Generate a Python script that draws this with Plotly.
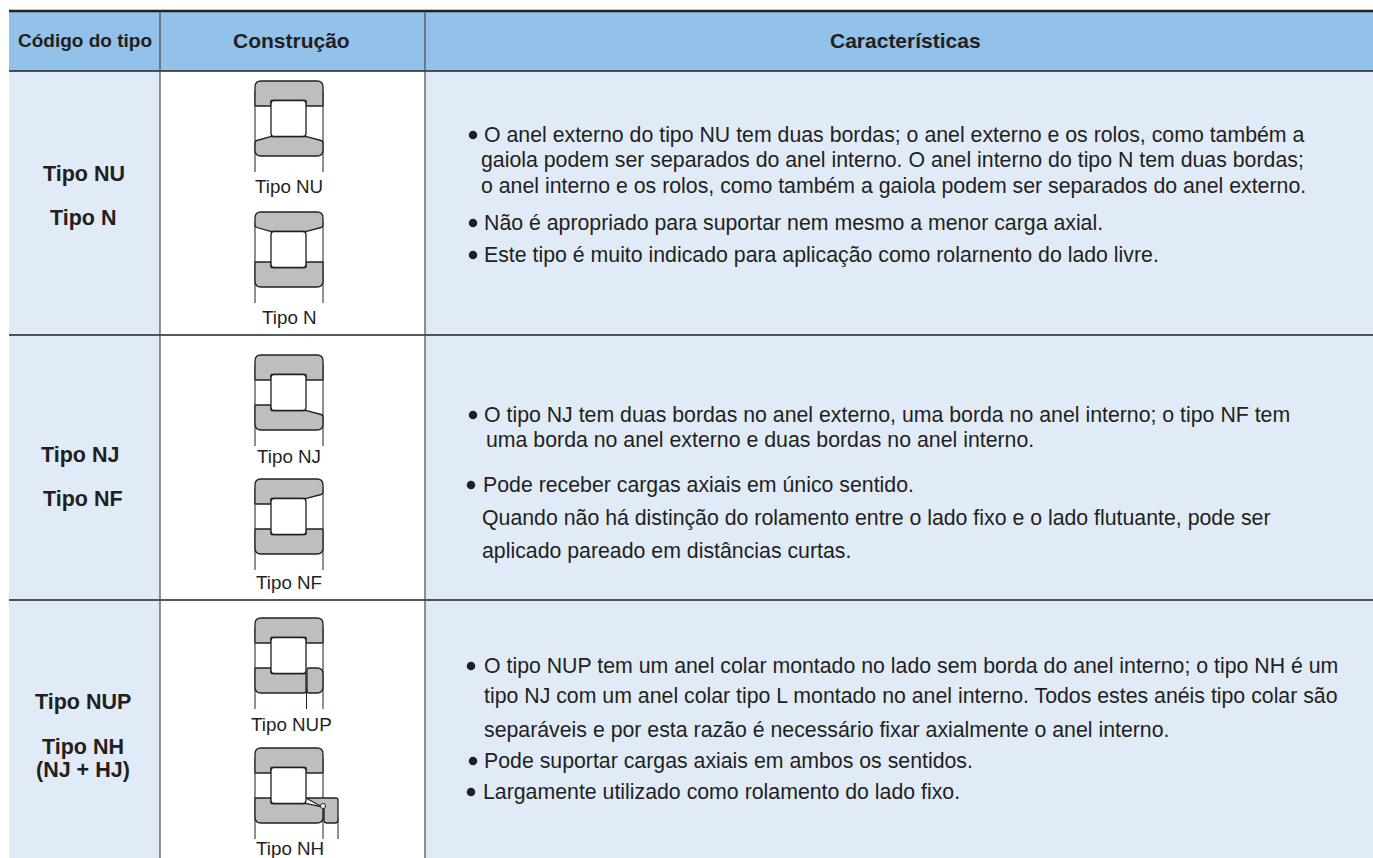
import plotly.graph_objects as go

W, H = 1373, 858
INK = "#231f20"
HEAD = "#92c1e9"
PALE = "#e1ebf8"
GRAY = "#bcbec0"
FONT = "Liberation Sans"

headers = ["Código do tipo", "Construção", "Características"]
type_labels = [["Tipo NU", "Tipo N"], ["Tipo NJ", "Tipo NF"], ["Tipo NUP", "Tipo NH", "(NJ + HJ)"]]
drawing_labels = ["Tipo NU", "Tipo N", "Tipo NJ", "Tipo NF", "Tipo NUP", "Tipo NH"]
body_lines = [
    ["O anel externo do tipo NU tem duas bordas; o anel externo e os rolos, como também a",
     "gaiola podem ser separados do anel interno. O anel interno do tipo N tem duas bordas;",
     "o anel interno e os rolos, como também a gaiola podem ser separados do anel externo.",
     "Não é apropriado para suportar nem mesmo a menor carga axial.",
     "Este tipo é muito indicado para aplicação como rolarnento do lado livre."],
    ["O tipo NJ tem duas bordas no anel externo, uma borda no anel interno; o tipo NF tem",
     "uma borda no anel externo e duas bordas no anel interno.",
     "Pode receber cargas axiais em único sentido.",
     "Quando não há distinção do rolamento entre o lado fixo e o lado flutuante, pode ser",
     "aplicado pareado em distâncias curtas."],
    ["O tipo NUP tem um anel colar montado no lado sem borda do anel interno; o tipo NH é um",
     "tipo NJ com um anel colar tipo L montado no anel interno. Todos estes anéis tipo colar são",
     "separáveis e por esta razão é necessário fixar axialmente o anel interno.",
     "Pode suportar cargas axiais em ambos os sentidos.",
     "Largamente utilizado como rolamento do lado fixo."],
]

# layout of text: (x, y, bullet centre x or None)
body_pos = [
    [(484, 135, 473), (481, 160, None), (481, 186, None), (484, 223, 473), (484, 255, 473)],
    [(484, 415, 473), (486, 440, None), (483, 485, 471), (482, 518, None), (482, 551, None)],
    [(484, 666, 471), (484, 696, None), (484, 730, None), (484, 761, 473), (483, 792, 471)],
]
type_pos = [[(83.5, 174), (82.5, 218)], [(79.5, 455), (82.5, 499)], [(82.5, 702), (82.5, 747), (82.5, 770)]]
draw_label_pos = [(289, 186), (289, 317), (289, 456), (289, 582), (291, 724), (289.5, 848)]


def rnd(pts, r=6):
    """SVG path with rounded corners for given polygon vertices."""
    n = len(pts)
    d = ""
    for i, p in enumerate(pts):
        a = pts[i - 1]
        b = pts[(i + 1) % n]

        def toward(s, t, r):
            dx, dy = t[0] - s[0], t[1] - s[1]
            L = (dx * dx + dy * dy) ** 0.5
            k = min(r, L / 2) / L
            return (s[0] + dx * k, s[1] + dy * k)

        rr = r if len(p) == 2 else p[2]
        p1 = toward(p, a, rr)
        p2 = toward(p, b, rr)
        d += ("M" if i == 0 else "L") + f"{p1[0]:.1f},{p1[1]:.1f} Q{p[0]:.1f},{p[1]:.1f} {p2[0]:.1f},{p2[1]:.1f} "
    return d + "Z"


shapes = []
annots = []


def rect(x0, y0, x1, y1, fill):
    shapes.append(dict(type="rect", x0=x0, y0=y0, x1=x1, y1=y1, fillcolor=fill, line_width=0, layer="below"))


def line(x0, y0, x1, y1, w=1, c=INK):
    shapes.append(dict(type="line", x0=x0, y0=y0, x1=x1, y1=y1, line=dict(color=c, width=w)))


def poly(pts, ox, oy, fill=GRAY, r=6, w=1.3):
    P = [(p[0] + ox, p[1] + oy) + tuple(p[2:]) for p in pts]
    shapes.append(dict(type="path", path=rnd(P, r), fillcolor=fill, line=dict(color=INK, width=w)))


def text(s, x, y, size, bold=False, anchor="center", color=INK):
    annots.append(dict(text=f"<b>{s}</b>" if bold else s, x=x, y=y, xref="x", yref="y", showarrow=False,
                       xanchor=anchor, yanchor="middle", align="center", borderpad=0, borderwidth=0,
                       font=dict(family=FONT, size=size, color=color)))


def bullet(cx, cy, d=8.5):
    shapes.append(dict(type="circle", x0=cx - d / 2, x1=cx + d / 2, y0=cy - d / 2, y1=cy + d / 2,
                       fillcolor=INK, line_width=0))


# ring outlines
OUT_RIB = [(0, 0), (68, 0), (68, 25, 0.8), (51, 25, 0.8), (51, 19.5, 0.5), (16, 19.5, 0.5), (16, 25, 0.8), (0, 25, 0.8)]
OUT_TAPER = [(0, 0), (68, 0), (68, 15, 2), (51, 19.5, 0.5), (16, 19.5, 0.5), (0, 15, 2)]
IN_TAPER = [(0, 60, 2), (16, 55.5, 0.5), (51, 55.5, 0.5), (68, 60, 2), (68, 75), (0, 75)]
IN_RIB = [(0, 50, 0.8), (16, 50, 0.8), (16, 55.5, 0.5), (51, 55.5, 0.5), (51, 50, 0.8), (68, 50, 0.8), (68, 75), (0, 75)]
ROLLER = [(16, 19.5), (51, 19.5), (51, 55.5), (16, 55.5)]


def bearing(ox, oy, kind):
    if kind == "NU":
        rings = [OUT_RIB, IN_TAPER]
    if kind == "N":
        rings = [OUT_TAPER, IN_RIB]
    if kind == "NJ":
        rings = [OUT_RIB, [(0, 50, 0.8), (16, 50, 0.8), (16, 55.5, 0.5), (51, 55.5, 0.5), (68, 60, 2), (68, 75), (0, 75)]]
    if kind == "NF":
        rings = [[(0, 0), (68, 0), (68, 15, 2), (51, 19.5, 0.5), (16, 19.5, 0.5), (16, 25, 0.8), (0, 25, 0.8)], IN_RIB]
    if kind == "NUP":
        rings = [OUT_RIB, [(0, 50, 0.8), (16, 50, 0.8), (16, 55.5, 0.5), (51, 55.5, 0.5), (51, 75, 2), (0, 75)],
                 [(52, 50, 2), (68, 50), (68, 75), (52, 75, 2)]]
    if kind == "NH":
        rings = [OUT_RIB, [(0, 50, 0.8), (16, 50, 0.8), (16, 55.5, 0.5), (51, 55.5, 0.5), (68, 59, 0.5), (68, 75), (0, 75)],
                 [(51, 50, 0.5), (83, 50, 2), (83, 75, 3), (69, 75, 3), (69, 60, 0.5)]]
    for x in (0, 68):
        line(ox + x, oy + 10, ox + x, oy + 91)
    if kind == "NUP":
        line(ox + 51.5, oy + 70, ox + 51.5, oy + 91)
    if kind == "NH":
        line(ox + 83, oy + 70, ox + 83, oy + 91)
    for R in rings:
        poly(R, ox, oy)
    poly(ROLLER, ox, oy, fill="white", r=3)
    if kind == "NH":
        shapes.append(dict(type="circle", x0=ox + 65.5, x1=ox + 70.5, y0=oy + 55.5, y1=oy + 60.5,
                           fillcolor="white", line=dict(color=INK, width=1)))


# backgrounds
rect(9, 11, W, 71, HEAD)
rect(9, 71, 160, H, PALE)
rect(160, 71, 425, H, "white")
rect(425, 71, W, H, PALE)

# rules
line(9, 11, W, 11, 2.4)
line(9, 71, W, 71, 1.3)
line(9, 335, W, 335, 1.3)
line(9, 600, W, 600, 1.3)
line(160, 11, 160, H, 1.2, "#4a4a4c")
line(425, 11, 425, H, 1.2, "#4a4a4c")

# headers
text(headers[0], 84.5, 40, 19, True)
text(headers[1], 291.5, 40, 21, True)
text(headers[2], 905.5, 40, 21, True)

# type labels
for row, pos in zip(type_labels, type_pos):
    for s, (x, y) in zip(row, pos):
        text(s, x, y, 21.5, True)

# drawings
for kind, ox, oy in [("NU", 255, 81), ("N", 255, 212), ("NJ", 255, 355), ("NF", 255, 479), ("NUP", 255, 618), ("NH", 255, 748)]:
    bearing(ox, oy, kind)
for s, (x, y) in zip(drawing_labels, draw_label_pos):
    text(s, x, y, 18.8)

# body
for lines, pos in zip(body_lines, body_pos):
    for s, (x, y, b) in zip(lines, pos):
        text(s, x, y, 21.3, anchor="left")
        if b:
            bullet(b, y)

fig = go.Figure()
fig.update_layout(width=W, height=H, margin=dict(l=0, r=0, t=0, b=0), plot_bgcolor="white", paper_bgcolor="white",
                  xaxis=dict(range=[0, W], visible=False, fixedrange=True),
                  yaxis=dict(range=[H, 0], visible=False, fixedrange=True),
                  shapes=shapes, annotations=annots, showlegend=False)
fig.write_html("out.html", config={"displayModeBar": False},
               post_script="document.body.style.margin='0';document.body.style.overflow='hidden';")
